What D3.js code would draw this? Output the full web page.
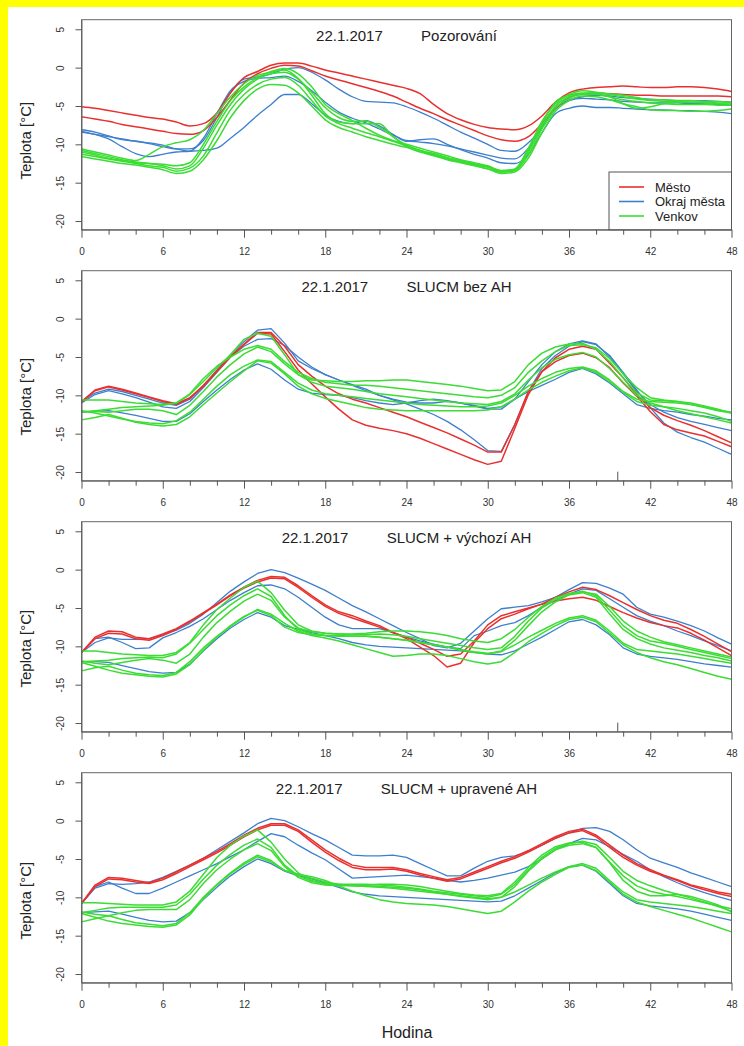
<!DOCTYPE html>
<html><head><meta charset="utf-8">
<script src="https://cdn.jsdelivr.net/npm/d3@7"></script>
<style>html,body{margin:0;padding:0;background:#ffff00;} svg{display:block;}</style>
</head><body><svg id="c" width="744" height="1046"></svg>
<script>
const hours = [0,1,2,3,4,5,6,7,8,9,10,11,12,13,14,15,16,17,18,19,20,21,22,23,24,25,26,27,28,29,30,31,32,33,34,35,36,37,38,39,40,41,42,43,44,45,46,47,48];
const xTicks = [0,2,4,6,8,10,12,14,16,18,20,22,24,26,28,30,32,34,36,38,40,42,44,46,48];
const xLabels = [0,6,12,18,24,30,36,42,48];
const yTicks = [5,0,-5,-10,-15,-20];
const titleDate = "22.1.2017";
const panelTitles = ["Pozorování","SLUCM bez AH","SLUCM + výchozí AH","SLUCM + upravené AH"];
const legendLabels = ["Město","Okraj města","Venkov"];
const yAxisTitle = "Teplota [°C]";
const xAxisTitle = "Hodina";
const markHour = [null, 39.6, 39.6, null];

// ---------- Panel 1: Pozorování ----------
const obsRed1 = [-5.1,-5.3,-5.6,-5.9,-6.2,-6.5,-6.7,-7.1,-7.6,-7.3, -5.9,-3.3,-1.3,-0.5,0.3,0.6,0.6,0.2,-0.3,-0.7, -1.1,-1.5,-1.9,-2.3,-2.7,-3.4,-4.8,-6.0,-6.8,-7.4, -7.8,-8.0,-8.1,-7.6,-6.3,-4.5,-3.3,-2.8,-2.6,-2.5, -2.4,-2.5,-2.6,-2.6,-2.5,-2.5,-2.6,-2.8,-3.1];
const obsRed2 = [-6.4,-6.7,-7.0,-7.4,-7.7,-8.0,-8.3,-8.6,-8.7,-8.2, -6.5,-4.2,-2.0,-0.8,-0.1,0.3,0.2,-0.4,-1.1,-1.6, -2.1,-2.6,-3.1,-3.7,-4.5,-5.3,-6.0,-6.8,-7.5,-8.2, -8.9,-9.4,-9.6,-9.0,-7.3,-5.3,-3.9,-3.4,-3.3,-3.4, -3.5,-3.6,-3.6,-3.7,-3.7,-3.7,-3.7,-3.7,-3.8];
const obsBlue1 = [-8.1,-8.4,-8.9,-9.4,-9.6,-9.9,-10.3,-10.6,-10.6,-9.5, -6.5,-3.2,-1.5,-1.2,-0.8,-0.2,0.0,-0.6,-1.6,-2.8, -3.8,-4.4,-4.5,-4.6,-5.1,-5.8,-6.6,-7.5,-8.4,-9.2, -10.0,-10.8,-10.9,-9.8,-7.8,-5.4,-4.2,-3.8,-3.6,-3.7, -3.9,-4.0,-4.1,-4.2,-4.3,-4.3,-4.3,-4.4,-4.5];
const obsBlue2 = [-8.3,-8.7,-9.3,-10.3,-11.2,-11.6,-11.3,-11.0,-10.9,-9.2, -6.0,-3.0,-1.8,-1.4,-1.3,-1.1,-1.8,-3.0,-4.5,-5.8, -6.6,-7.2,-8.0,-8.8,-9.5,-9.7,-9.9,-10.2,-10.6,-11.0, -11.4,-11.8,-11.9,-10.5,-7.8,-5.3,-4.3,-4.0,-4.1,-4.2, -4.4,-4.5,-4.6,-4.6,-4.6,-4.7,-4.7,-4.8,-4.8];
const obsBlue3 = [-8.4,-8.7,-9.0,-9.3,-9.6,-9.8,-10.1,-10.6,-10.9,-10.8, -10.5,-9.2,-7.8,-6.2,-4.8,-3.5,-3.5,-4.7,-6.2,-7.0, -7.3,-6.9,-7.6,-8.7,-9.6,-9.4,-9.3,-10.0,-10.7,-11.3, -11.8,-12.4,-12.5,-11.3,-8.5,-6.0,-5.3,-5.0,-5.2,-5.2, -5.3,-5.4,-5.5,-5.5,-5.6,-5.6,-5.7,-5.8,-6.0];
const obsGreen1 = [-10.6,-11.0,-11.4,-11.8,-12.1,-11.3,-10.3,-9.8,-9.4,-8.2, -6.0,-3.8,-2.1,-1.0,-0.6,-0.3,-1.4,-3.6,-6.0,-7.1, -7.3,-7.3,-7.3,-9.0,-10.1,-10.8,-11.4,-11.9,-12.3,-12.7, -13.2,-13.6,-13.4,-10.8,-7.3,-4.5,-3.6,-3.3,-3.4,-3.8, -4.7,-5.3,-5.1,-4.7,-4.5,-4.5,-4.6,-4.7,-4.8];
const obsGreen2 = [-11.0,-11.4,-11.8,-12.1,-12.3,-12.5,-12.8,-13.2,-12.8,-10.5, -7.5,-4.8,-2.8,-1.5,-0.8,-0.6,-1.5,-3.2,-5.2,-6.5, -7.0,-7.0,-7.8,-9.0,-10.3,-10.8,-11.2,-11.7,-12.1,-12.5, -12.9,-13.5,-13.3,-11.0,-7.6,-5.0,-3.8,-3.4,-3.3,-3.4, -3.6,-3.9,-4.2,-4.2,-4.3,-4.3,-4.4,-4.4,-4.5];
const obsGreen3 = [-11.3,-11.6,-11.9,-12.2,-12.5,-12.8,-13.0,-13.5,-13.1,-11.5, -8.5,-5.5,-3.5,-2.2,-1.5,-1.3,-2.3,-4.3,-6.3,-7.3, -7.9,-8.5,-9.0,-9.6,-10.2,-10.8,-11.3,-11.8,-12.2,-12.6, -13.0,-13.6,-13.4,-11.4,-8.0,-5.3,-4.0,-3.5,-3.5,-3.8, -4.2,-4.4,-4.6,-4.7,-4.8,-4.8,-4.8,-4.9,-4.9];
const obsGreen4 = [-11.6,-11.9,-12.2,-12.5,-12.7,-13.0,-13.3,-13.8,-13.5,-12.0, -9.5,-6.5,-4.3,-2.8,-2.2,-2.3,-3.3,-5.0,-6.8,-7.8, -8.4,-9.0,-9.5,-10.0,-10.4,-11.0,-11.5,-12.0,-12.4,-12.8, -13.2,-13.8,-13.6,-11.8,-8.5,-5.7,-4.3,-3.7,-3.8,-4.2, -4.7,-5.1,-5.5,-5.6,-5.6,-5.7,-5.7,-5.6,-5.4];
const obsGreen5 = [-10.8,-11.2,-11.6,-12.0,-12.4,-12.5,-12.6,-12.8,-12.4,-10.0, -7.0,-4.3,-2.5,-1.3,-0.5,-0.1,-0.8,-2.5,-4.8,-6.0, -6.9,-7.9,-8.8,-9.5,-10.0,-10.5,-11.0,-11.5,-12.0,-12.4, -12.8,-13.4,-13.2,-10.5,-7.0,-4.7,-3.5,-3.0,-3.2,-3.5, -3.8,-4.1,-4.3,-4.4,-4.4,-4.5,-4.5,-4.6,-4.6];

// ---------- Panel 2: SLUCM bez AH ----------
const noahRed1 = [-10.8,-9.3,-8.8,-9.2,-9.7,-10.2,-10.7,-11.1,-10.3,-8.8, -6.9,-5.0,-3.4,-1.9,-2.0,-4.3,-6.7,-8.5,-10.2,-11.8, -13.2,-13.9,-14.3,-14.6,-15.0,-15.6,-16.3,-17.0,-17.7,-18.4, -19.0,-18.6,-14.3,-9.9,-6.9,-5.6,-4.8,-4.5,-5.1,-6.4, -8.4,-10.1,-12.1,-13.8,-14.5,-14.9,-15.3,-16.0,-16.7];
const noahRed2 = [-10.9,-9.4,-8.9,-9.3,-9.8,-10.3,-10.8,-11.2,-10.4,-8.7, -6.8,-4.9,-3.3,-1.8,-1.8,-3.6,-6.0,-7.5,-8.8,-9.8, -10.5,-11.0,-11.6,-12.2,-12.8,-13.5,-14.2,-14.9,-15.7,-16.5, -17.4,-17.4,-13.8,-9.5,-6.9,-5.1,-4.0,-3.6,-4.0,-5.8, -7.7,-9.9,-11.6,-12.6,-13.3,-13.9,-14.6,-15.4,-16.2];
const noahBlue1 = [-10.8,-9.7,-9.2,-9.5,-10.0,-10.5,-11.0,-11.3,-10.5,-8.8, -6.7,-4.7,-3.0,-1.5,-1.3,-3.2,-5.5,-6.5,-7.3,-8.0, -8.6,-9.2,-10.0,-10.6,-11.1,-11.8,-12.5,-13.4,-14.5,-15.8, -17.2,-17.3,-13.8,-9.5,-6.5,-4.8,-3.6,-3.0,-3.4,-4.8, -7.0,-9.3,-11.6,-13.6,-14.8,-15.5,-16.1,-16.9,-17.7];
const noahBlue2 = [-11.0,-9.9,-9.4,-9.8,-10.3,-10.9,-11.5,-11.7,-10.8,-9.0, -7.0,-5.0,-3.6,-2.7,-2.6,-3.5,-5.0,-6.3,-7.3,-8.0, -8.7,-9.4,-10.0,-10.5,-10.9,-11.0,-11.0,-10.8,-11.0,-11.4, -11.8,-11.8,-10.5,-8.2,-6.0,-4.3,-3.3,-2.9,-3.3,-5.0, -7.2,-9.5,-11.2,-12.2,-12.9,-13.4,-13.8,-14.2,-14.6];
const noahBlue3 = [-12.2,-12.1,-12.0,-12.3,-12.6,-13.0,-13.4,-13.4,-12.4,-10.8, -9.3,-7.9,-6.7,-5.9,-6.6,-8.0,-9.2,-9.7,-9.9,-10.0, -10.3,-10.7,-11.0,-11.2,-11.0,-10.7,-10.5,-10.7,-11.0,-11.3, -11.7,-11.5,-10.5,-9.5,-8.7,-7.9,-7.0,-6.5,-7.2,-8.4, -9.8,-11.2,-11.7,-12.0,-12.2,-12.5,-12.7,-13.0,-13.2];
const noahGreen1 = [-10.6,-10.6,-10.6,-10.8,-11.0,-11.1,-11.2,-11.0,-9.9,-8.2, -6.4,-4.7,-2.7,-1.9,-2.3,-4.7,-7.3,-8.0,-8.1,-8.2, -8.2,-8.1,-8.1,-8.0,-8.0,-8.2,-8.4,-8.6,-8.8,-9.1, -9.4,-9.3,-8.2,-6.0,-4.5,-3.7,-3.3,-3.2,-4.0,-5.6, -7.7,-9.7,-10.6,-10.7,-10.8,-11.0,-11.4,-11.8,-12.3];
const noahGreen2 = [-12.2,-12.0,-11.8,-11.6,-11.5,-11.4,-11.3,-11.0,-9.8,-7.8, -6.2,-5.0,-4.0,-3.5,-4.0,-5.6,-7.0,-7.8,-8.3,-8.5, -8.7,-8.7,-8.8,-9.0,-9.2,-9.4,-9.6,-9.8,-10.0,-10.2, -10.3,-10.0,-9.0,-7.0,-5.5,-4.3,-3.5,-3.4,-3.8,-5.2, -7.2,-9.0,-10.3,-10.6,-10.8,-11.2,-11.6,-12.0,-12.3];
const noahGreen3 = [-12.1,-12.1,-12.2,-12.0,-11.8,-11.8,-12.0,-12.5,-11.3,-9.5, -7.6,-6.0,-4.6,-3.7,-4.3,-5.9,-7.3,-8.3,-8.8,-9.0, -9.2,-9.5,-9.8,-10.0,-10.2,-10.4,-10.6,-10.8,-11.0,-11.1, -11.2,-10.8,-9.8,-8.0,-6.4,-5.3,-4.7,-4.4,-5.0,-6.5, -8.3,-10.0,-11.0,-11.5,-12.0,-12.4,-12.8,-13.2,-13.6];
const noahGreen4 = [-13.2,-12.9,-12.5,-13.0,-13.5,-13.8,-14.0,-13.8,-12.8,-11.2, -9.7,-8.2,-6.8,-5.5,-5.8,-7.2,-8.8,-9.8,-10.4,-10.8, -11.2,-11.6,-11.8,-11.9,-12.0,-12.0,-12.0,-12.0,-12.0,-12.0, -11.9,-11.5,-10.5,-9.3,-8.3,-7.5,-6.8,-6.4,-7.0,-8.2, -9.6,-10.8,-11.3,-11.5,-11.7,-12.0,-12.3,-12.8,-13.4];
const noahGreen5 = [-12.0,-12.3,-12.7,-13.1,-13.4,-13.6,-13.7,-13.3,-12.2,-10.5, -8.8,-7.3,-6.2,-5.4,-5.6,-7.0,-8.4,-9.3,-9.8,-10.0, -10.2,-10.4,-10.6,-10.8,-11.0,-11.2,-11.3,-11.4,-11.5,-11.5, -11.4,-11.0,-10.0,-8.8,-7.8,-7.0,-6.5,-6.3,-6.8,-8.0, -9.5,-10.5,-10.8,-10.9,-11.0,-11.2,-11.5,-11.9,-12.2];

// ---------- Panel 3: SLUCM + výchozí AH ----------
const defRed1 = [-10.8,-8.8,-8.0,-8.1,-8.8,-9.0,-8.4,-7.7,-6.7,-5.6, -4.5,-3.3,-2.3,-1.4,-0.9,-1.0,-2.1,-3.4,-4.6,-5.5, -6.0,-6.7,-7.3,-8.2,-9.0,-10.1,-11.2,-12.7,-12.2,-9.5, -7.7,-6.4,-5.8,-5.1,-4.5,-3.6,-2.9,-2.3,-2.6,-3.4, -4.3,-5.2,-6.0,-6.6,-7.0,-7.8,-8.7,-9.7,-10.7];
const defRed2 = [-10.8,-9.0,-8.3,-8.4,-9.0,-9.2,-8.6,-7.8,-6.8,-5.7, -4.6,-3.4,-2.4,-1.6,-1.1,-1.2,-2.3,-3.6,-4.8,-5.7, -6.3,-6.9,-7.5,-8.2,-8.8,-9.6,-10.4,-11.3,-11.0,-9.3, -7.2,-6.0,-5.5,-5.0,-4.5,-4.1,-3.8,-3.6,-4.0,-4.8, -5.6,-6.3,-6.9,-7.3,-7.6,-8.3,-9.2,-10.2,-11.2];
const defBlue1 = [-10.8,-9.5,-8.9,-9.1,-9.1,-9.0,-8.5,-7.9,-7.0,-5.8, -4.3,-2.8,-1.6,-0.5,0.0,-0.4,-1.1,-1.9,-2.7,-3.7, -4.7,-5.5,-6.4,-7.3,-8.2,-9.0,-9.9,-10.2,-9.6,-8.0, -6.4,-5.1,-4.9,-4.7,-4.2,-3.6,-2.6,-1.7,-1.8,-2.4, -3.2,-4.9,-5.8,-6.2,-6.7,-7.3,-8.0,-8.9,-9.7];
const defBlue2 = [-10.8,-9.0,-8.8,-9.5,-10.3,-10.2,-8.9,-8.2,-7.4,-6.4, -5.2,-4.0,-3.0,-2.1,-2.0,-2.5,-3.6,-4.9,-6.2,-7.2, -7.7,-7.7,-7.7,-8.2,-8.8,-9.3,-9.7,-10.1,-10.3,-8.6, -8.0,-7.3,-6.9,-6.0,-4.9,-4.0,-3.2,-2.5,-2.7,-3.8, -4.9,-6.0,-6.7,-7.3,-8.0,-8.6,-9.3,-9.9,-10.6];
const defBlue3 = [-12.0,-12.0,-12.1,-12.5,-12.9,-13.3,-13.5,-13.4,-12.3,-10.6, -9.0,-7.6,-6.5,-5.6,-6.2,-7.3,-7.8,-8.2,-8.6,-9.0, -9.5,-9.8,-10.0,-10.1,-10.2,-10.3,-10.4,-10.5,-10.6,-10.8, -11.0,-11.1,-10.6,-9.7,-8.8,-7.8,-6.8,-6.5,-7.2,-8.5, -10.2,-11.0,-11.3,-11.5,-11.7,-12.0,-12.3,-12.5,-12.7];
const defGreen1 = [-10.6,-10.6,-10.8,-11.0,-11.1,-11.2,-11.2,-10.8,-9.5,-7.2, -5.2,-3.7,-2.3,-1.5,-3.0,-5.3,-7.2,-8.0,-8.3,-8.4, -8.5,-8.5,-8.4,-8.5,-8.7,-9.0,-9.3,-9.6,-9.9,-10.2, -10.4,-10.2,-8.7,-6.7,-5.0,-3.9,-3.2,-2.8,-3.4,-5.3, -7.3,-8.6,-9.3,-9.6,-10.0,-10.4,-10.8,-11.2,-11.6];
const defGreen2 = [-12.0,-11.9,-11.8,-11.6,-11.5,-11.4,-11.5,-11.0,-9.6,-7.8, -6.0,-4.6,-3.4,-2.5,-3.5,-6.0,-7.8,-8.4,-8.6,-8.6, -8.7,-8.7,-8.8,-9.0,-9.2,-9.5,-9.8,-10.1,-10.5,-10.8, -11.0,-10.6,-9.2,-7.3,-5.5,-4.2,-3.3,-3.0,-3.6,-5.8, -7.8,-9.0,-9.7,-10.2,-10.5,-10.8,-11.2,-11.5,-11.9];
const defGreen3 = [-11.9,-12.2,-12.4,-12.1,-11.8,-11.6,-11.8,-12.2,-11.0,-8.8, -6.9,-5.4,-4.1,-3.2,-4.0,-6.2,-7.6,-8.1,-8.3,-8.4, -8.4,-8.3,-8.1,-8.0,-8.0,-8.1,-8.3,-8.6,-9.0,-9.3, -9.5,-9.0,-7.8,-6.2,-4.8,-3.7,-3.1,-2.9,-3.2,-4.8, -6.7,-8.0,-8.8,-9.4,-9.8,-10.2,-10.6,-11.0,-11.4];
const defGreen4 = [-13.2,-12.8,-12.6,-13.1,-13.5,-13.7,-13.8,-13.4,-12.0,-10.2, -8.7,-7.4,-6.2,-5.2,-5.8,-7.0,-8.0,-8.6,-8.9,-9.3, -9.8,-10.3,-10.8,-11.3,-11.2,-11.0,-11.0,-11.2,-11.6,-12.0, -12.3,-12.0,-10.8,-9.4,-8.3,-7.3,-6.5,-6.2,-6.8,-8.3, -9.8,-10.8,-11.5,-12.0,-12.4,-12.9,-13.4,-13.9,-14.3];
const defGreen5 = [-12.1,-12.6,-13.1,-13.5,-13.7,-13.9,-14.0,-13.6,-12.4,-10.5, -8.8,-7.3,-6.1,-5.3,-6.0,-7.5,-8.2,-8.5,-8.6,-8.7, -8.7,-8.7,-8.8,-9.0,-9.2,-9.5,-9.8,-10.1,-10.4,-10.7, -10.9,-10.7,-9.8,-8.8,-7.9,-7.0,-6.3,-6.0,-6.6,-8.0, -9.6,-10.4,-10.6,-10.8,-11.0,-11.3,-11.6,-11.9,-12.2];

// ---------- Panel 4: SLUCM + upravené AH ----------
const modRed1 = [-10.8,-8.4,-7.4,-7.5,-7.8,-8.1,-7.5,-6.7,-5.8,-4.9, -4.0,-3.0,-1.9,-1.0,-0.4,-0.4,-1.2,-2.5,-3.8,-4.9, -5.8,-6.1,-6.1,-6.1,-6.4,-6.9,-7.3,-7.7,-7.4,-6.7, -6.0,-5.3,-4.7,-3.9,-3.0,-2.1,-1.4,-1.1,-1.9,-3.2, -4.5,-5.6,-6.4,-7.1,-7.7,-8.4,-8.8,-9.3,-9.6];
const modRed2 = [-10.8,-8.6,-7.6,-7.7,-8.0,-8.2,-7.7,-6.9,-6.0,-5.1, -4.2,-3.2,-2.1,-1.2,-0.6,-0.6,-1.4,-2.8,-4.1,-5.2, -6.1,-6.4,-6.4,-6.3,-6.6,-7.1,-7.5,-7.9,-7.6,-6.9, -6.2,-5.5,-4.9,-4.1,-3.2,-2.3,-1.6,-1.3,-2.1,-3.5, -4.8,-5.8,-6.6,-7.2,-7.8,-8.5,-9.0,-9.5,-9.9];
const modBlue1 = [-10.8,-8.8,-8.2,-8.3,-8.2,-8.0,-7.4,-6.6,-5.8,-4.9, -3.8,-2.7,-1.6,-0.4,0.3,0.0,-0.8,-1.7,-2.5,-3.5, -4.5,-4.6,-4.6,-4.5,-4.8,-5.6,-6.4,-7.2,-7.2,-6.2, -5.3,-4.8,-4.6,-4.0,-3.2,-2.3,-1.6,-1.0,-0.9,-1.4, -2.5,-3.8,-4.9,-5.5,-6.1,-6.8,-7.4,-8.0,-8.6];
const modBlue2 = [-10.8,-8.6,-8.0,-8.8,-9.5,-9.5,-8.8,-8.0,-7.2,-6.4, -5.6,-4.7,-3.8,-2.7,-1.7,-2.1,-3.2,-4.2,-5.1,-6.3, -7.5,-7.4,-7.3,-7.2,-7.1,-7.3,-7.5,-7.8,-8.0,-7.8, -7.5,-7.1,-6.7,-6.0,-5.0,-3.8,-3.0,-2.3,-2.5,-3.4, -4.4,-5.3,-6.4,-7.3,-8.1,-8.8,-9.4,-9.9,-10.4];
const modBlue3 = [-12.0,-11.9,-11.8,-12.2,-12.6,-13.0,-13.2,-13.1,-12.0,-10.3, -8.7,-7.2,-6.0,-5.0,-5.6,-6.6,-7.2,-7.6,-8.1,-8.7, -9.3,-9.6,-9.8,-9.9,-10.0,-10.1,-10.2,-10.3,-10.4,-10.5, -10.6,-10.5,-9.8,-8.8,-7.8,-6.8,-6.0,-5.8,-6.6,-8.2, -9.8,-10.8,-11.1,-11.3,-11.5,-11.8,-12.2,-12.6,-13.0];
const modGreen1 = [-10.7,-10.7,-10.8,-10.9,-11.0,-11.0,-11.0,-10.6,-9.2,-7.0, -4.8,-3.2,-2.0,-1.2,-2.8,-5.0,-6.8,-7.8,-8.3,-8.4, -8.4,-8.4,-8.3,-8.3,-8.4,-8.6,-8.9,-9.2,-9.5,-9.7, -9.8,-9.5,-8.0,-6.1,-4.5,-3.4,-2.9,-2.8,-3.5,-5.4, -7.2,-8.5,-9.2,-9.6,-9.9,-10.3,-10.7,-11.1,-11.5];
const modGreen2 = [-12.0,-11.7,-11.4,-11.3,-11.3,-11.3,-11.3,-11.0,-9.6,-7.6, -5.8,-4.4,-3.2,-2.4,-3.5,-5.8,-7.2,-7.9,-8.2,-8.3, -8.3,-8.3,-8.4,-8.5,-8.7,-8.9,-9.2,-9.4,-9.6,-9.8, -10.0,-9.6,-8.3,-6.4,-4.8,-3.6,-3.0,-2.7,-3.1,-4.8, -6.6,-7.8,-8.5,-9.1,-9.6,-10.1,-10.6,-11.2,-11.8];
const modGreen3 = [-11.9,-12.2,-12.4,-12.0,-11.7,-11.6,-11.6,-11.6,-10.3,-8.2, -6.4,-5.0,-3.8,-3.0,-3.9,-6.0,-7.4,-8.1,-8.4,-8.5, -8.5,-8.5,-8.6,-8.7,-8.8,-9.0,-9.3,-9.6,-9.9,-10.1, -10.3,-10.0,-8.6,-6.6,-5.0,-3.8,-3.2,-3.0,-3.5,-5.5, -7.8,-9.2,-9.8,-9.8,-9.6,-9.9,-10.4,-11.0,-11.9];
const modGreen4 = [-13.2,-12.8,-12.4,-12.9,-13.3,-13.5,-13.7,-13.4,-12.0,-10.0, -8.3,-6.8,-5.5,-4.5,-5.2,-6.5,-7.0,-7.3,-7.8,-8.5, -9.2,-9.8,-10.3,-10.6,-10.8,-10.9,-11.0,-11.2,-11.5,-11.8, -12.1,-11.8,-10.6,-9.2,-8.0,-7.0,-6.1,-5.8,-6.5,-8.0, -9.6,-10.6,-11.2,-11.7,-12.2,-12.7,-13.3,-13.9,-14.5];
const modGreen5 = [-12.1,-12.6,-13.1,-13.4,-13.6,-13.8,-13.9,-13.6,-12.3,-10.2, -8.4,-6.9,-5.7,-4.7,-5.4,-6.5,-7.0,-7.5,-8.0,-8.3, -8.5,-8.6,-8.7,-8.8,-9.0,-9.2,-9.4,-9.6,-9.8,-10.0, -10.2,-10.0,-9.3,-8.4,-7.5,-6.7,-6.0,-5.6,-6.2,-7.8, -9.3,-10.3,-10.6,-10.8,-11.0,-11.2,-11.5,-11.8,-12.1];

const panels = [
  {title: panelTitles[0], smooth: true,  red:[obsRed1,obsRed2], blue:[obsBlue1,obsBlue2,obsBlue3], green:[obsGreen1,obsGreen2,obsGreen3,obsGreen4,obsGreen5]},
  {title: panelTitles[1], smooth: false, red:[noahRed1,noahRed2], blue:[noahBlue1,noahBlue2,noahBlue3], green:[noahGreen1,noahGreen2,noahGreen3,noahGreen4,noahGreen5]},
  {title: panelTitles[2], smooth: false, red:[defRed1,defRed2], blue:[defBlue1,defBlue2,defBlue3], green:[defGreen1,defGreen2,defGreen3,defGreen4,defGreen5]},
  {title: panelTitles[3], smooth: false, red:[modRed1,modRed2], blue:[modBlue1,modBlue2,modBlue3], green:[modGreen1,modGreen2,modGreen3,modGreen4,modGreen5]}
];

// ---------- drawing ----------
const FONT = "'Liberation Sans', Arial, Helvetica, sans-serif";
const colors = {red:"#e8312f", blue:"#3d7fcc", green:"#3bdc34"};
const svg = d3.select("#c");
svg.append("rect").attr("x",8).attr("y",7).attr("width",736).attr("height",1039).attr("fill","#ffffff");

const panelTop = [19.7, 270.7, 521.7, 772.7];
const plotH = 210, plotL = 81.5, plotR = 731.5;
const ylabOff = [121, 126, 127, 128];

panels.forEach((p, i) => {
  const top = panelTop[i];
  const x = d3.scaleLinear().domain([0, 48]).range([plotL, plotR]);
  const y = d3.scaleLinear().domain([-21.13, 6.25]).range([top + plotH, top]);
  const g = svg.append("g");

  const line = d3.line()
    .x((d, j) => x(hours[j]))
    .y(d => y(d))
    .curve(p.smooth ? d3.curveMonotoneX : d3.curveLinear);

  const drawSet = (arrs, col, w) => arrs.forEach(s => {
    g.append("path").attr("d", line(s)).attr("fill", "none")
      .attr("stroke", col).attr("stroke-width", w).attr("stroke-linejoin", "round");
  });
  drawSet(p.blue, colors.blue, 1.3);
  drawSet(p.red, colors.red, 1.5);
  drawSet(p.green, colors.green, 1.5);

  // frame
  g.append("rect").attr("x", plotL).attr("y", top).attr("width", plotR - plotL).attr("height", plotH)
    .attr("fill", "none").attr("stroke", "#666").attr("stroke-width", 1);

  // y axis
  const ya = g.append("g").attr("transform", `translate(${plotL},0)`)
    .attr("font-family", FONT).attr("font-size", 12)
    .call(d3.axisLeft(y).tickValues(yTicks).tickSize(6).tickSizeOuter(0).tickFormat(d => String(d)));
  ya.select(".domain").attr("stroke", "#666");
  ya.selectAll(".tick line").attr("stroke", "#555");
  ya.selectAll(".tick text").attr("transform", "rotate(-90)").attr("x", 0).attr("y", -18)
    .attr("dy", null).attr("text-anchor", "middle").attr("fill", "#333");

  // x axis
  const xa = g.append("g").attr("transform", `translate(0,${top + plotH})`)
    .attr("font-family", FONT).attr("font-size", 12)
    .call(d3.axisBottom(x).tickValues(xTicks).tickSizeOuter(0)
      .tickFormat(d => xLabels.includes(d) ? String(d) : ""));
  xa.select(".domain").attr("stroke", "#666");
  xa.selectAll(".tick line").attr("stroke", "#555").attr("y2", d => xLabels.includes(d) ? 8 : 5);
  xa.selectAll(".tick text").attr("y", 18).attr("fill", "#333");

  // small mark
  if (markHour[i] !== null) {
    g.append("line").attr("x1", x(markHour[i])).attr("x2", x(markHour[i]))
      .attr("y1", top + plotH).attr("y2", top + plotH - 9).attr("stroke", "#555");
  }

  // title
  const tDate = g.append("text").attr("font-family", FONT).attr("font-size", 15).attr("fill", "#222")
    .attr("y", top + 21).text(titleDate);
  const tSub = g.append("text").attr("font-family", FONT).attr("font-size", 15).attr("fill", "#222")
    .attr("y", top + 21).text(p.title);
  const subW = tSub.node().getComputedTextLength();
  const gap = 105;
  const startX = (plotL + plotR) / 2 - (gap + subW) / 2;
  tDate.attr("x", startX);
  tSub.attr("x", startX + gap);

  // y title
  g.append("text").attr("font-family", FONT).attr("font-size", 15).attr("fill", "#222")
    .attr("text-anchor", "middle")
    .attr("transform", `translate(31,${top + ylabOff[i]}) rotate(-90)`)
    .text(yAxisTitle);

  // legend
  if (i === 0) {
    const lg = g.append("g").attr("font-family", FONT).attr("font-size", 13);
    lg.append("rect").attr("x", 609).attr("y", 172).attr("width", plotR - 609).attr("height", top + plotH - 172)
      .attr("fill", "#fff").attr("stroke", "#555");
    const lc = [colors.red, colors.blue, colors.green];
    const ly = [187, 201.5, 216];
    legendLabels.forEach((lab, k) => {
      lg.append("line").attr("x1", 619).attr("x2", 644).attr("y1", ly[k]).attr("y2", ly[k])
        .attr("stroke", lc[k]).attr("stroke-width", 1.6);
      lg.append("text").attr("x", 655).attr("y", ly[k] + 4.5).attr("fill", "#222").text(lab);
    });
  }
});

svg.append("text").attr("font-family", FONT).attr("font-size", 16).attr("fill", "#222")
  .attr("text-anchor", "middle").attr("x", 407).attr("y", 1038).text(xAxisTitle);
</script>
</body></html>
